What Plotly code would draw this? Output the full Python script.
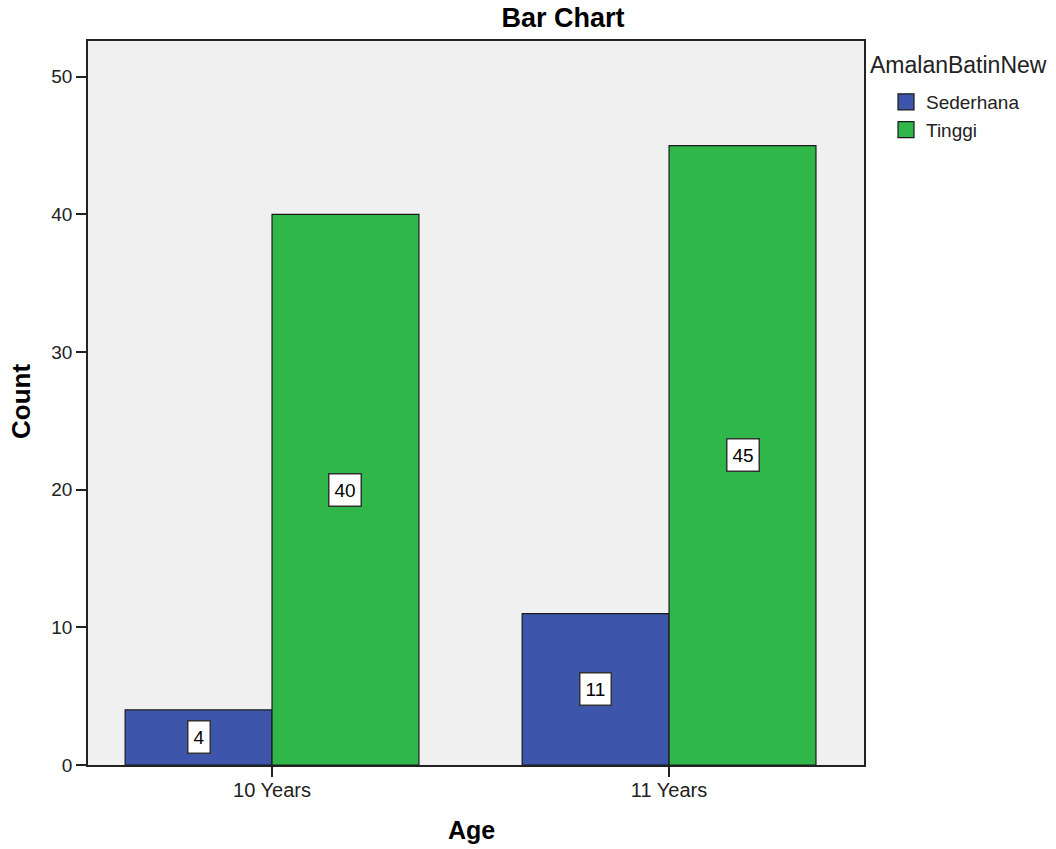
import plotly.graph_objects as go

categories = ["10 Years", "11 Years"]
sederhana = [4, 11]
tinggi = [40, 45]
series_names = ["Sederhana", "Tinggi"]
colors = ["#3D56AB", "#2FB74A"]
legend_title = "AmalanBatinNew"
x_title = "Age"
y_title = "Count"
chart_title = "Bar Chart"

fig = go.Figure()
for name, vals, col in zip(series_names, [sederhana, tinggi], colors):
    fig.add_trace(go.Bar(
        x=categories, y=vals, name=name, showlegend=False,
        marker=dict(color=col, line=dict(color="#1A1A1A", width=1.2)),
    ))
# legend-only entries with larger square swatches
for name, col in zip(series_names, colors):
    fig.add_trace(go.Scatter(
        x=[None], y=[None], mode="markers", name=name,
        marker=dict(symbol="square", size=16, color=col, line=dict(color="#1A1A1A", width=1.2)),
    ))

bargap = 0.26
half = (1 - bargap) / 4
for si, vals in enumerate([sederhana, tinggi]):
    off = -half if si == 0 else half
    for ci, v in enumerate(vals):
        fig.add_annotation(
            x=ci + off, y=v / 2, text=str(v), showarrow=False,
            font=dict(family="Liberation Sans, Arial", size=19, color="#000000"),
            bgcolor="#FFFFFF", bordercolor="#333333", borderwidth=1.5, borderpad=5,
        )

# body margin is removed by post_script, so figure pixels == page pixels
W, H = 1056, 849
PL, PT, PW, PH = 88, 41, 776, 724


def px_x(x):  # pixel -> paper x
    return (x - PL) / PW


def px_y(y):  # pixel -> paper y
    return 1 - (y - PT) / PH


fig.add_annotation(
    xref="paper", yref="paper", x=px_x(868), y=px_y(65),
    xanchor="left", yanchor="middle", text=legend_title, showarrow=False,
    font=dict(family="Liberation Sans, Arial", size=23, color="#222222"),
)
fig.add_annotation(
    xref="paper", yref="paper", x=px_x(21), y=px_y(402),
    xanchor="center", yanchor="middle", textangle=-90, text=f"<b>{y_title}</b>",
    showarrow=False, font=dict(family="Liberation Sans, Arial", size=26, color="#000000"),
)
fig.add_annotation(
    xref="paper", yref="paper", x=px_x(471), y=px_y(830),
    xanchor="center", yanchor="middle", text=f"<b>{x_title}</b>",
    showarrow=False, font=dict(family="Liberation Sans, Arial", size=25, color="#000000"),
)

fig.update_layout(
    width=W, height=H,
    margin=dict(l=PL, r=W - PL - PW, t=PT, b=H - PT - PH, autoexpand=False),
    paper_bgcolor="#FFFFFF", plot_bgcolor="#F0F0F0",
    barmode="group", bargap=bargap, bargroupgap=0,
    font=dict(family="Liberation Sans, Arial", size=19, color="#222222"),
    title=dict(text=f"<b>{chart_title}</b>", x=563 / W, xanchor="center",
               y=1 - 8 / H, yanchor="top", pad=dict(t=0),
               font=dict(size=27, color="#000000")),
    legend=dict(
        x=px_x(886), xanchor="left", y=px_y(83), yanchor="top",
        font=dict(size=19, color="#222222"), tracegroupgap=0,
        itemwidth=30, bgcolor="rgba(0,0,0,0)",
    ),
    xaxis=dict(
        type="category", range=[-0.4635, 1.491], automargin=False,
        showgrid=False, zeroline=False,
        ticks="outside", ticklen=10, tickcolor="#222222", tickwidth=1.5,
        ticklabelstandoff=-4,
        showline=True, linecolor="#222222", linewidth=1.5, mirror=True,
        tickfont=dict(size=20, color="#222222"),
    ),
    yaxis=dict(
        range=[0, 52.6], tickvals=[0, 10, 20, 30, 40, 50], automargin=False,
        showgrid=False, zeroline=False,
        ticks="outside", ticklen=10, tickcolor="#222222", tickwidth=1.5,
        showline=True, linecolor="#222222", linewidth=1.5, mirror=True,
        tickfont=dict(size=19, color="#222222"),
    ),
)

fig.write_html(
    "out.html",
    config={"displayModeBar": False},
    post_script="document.body.style.margin='0px';document.body.style.overflow='hidden';",
)
